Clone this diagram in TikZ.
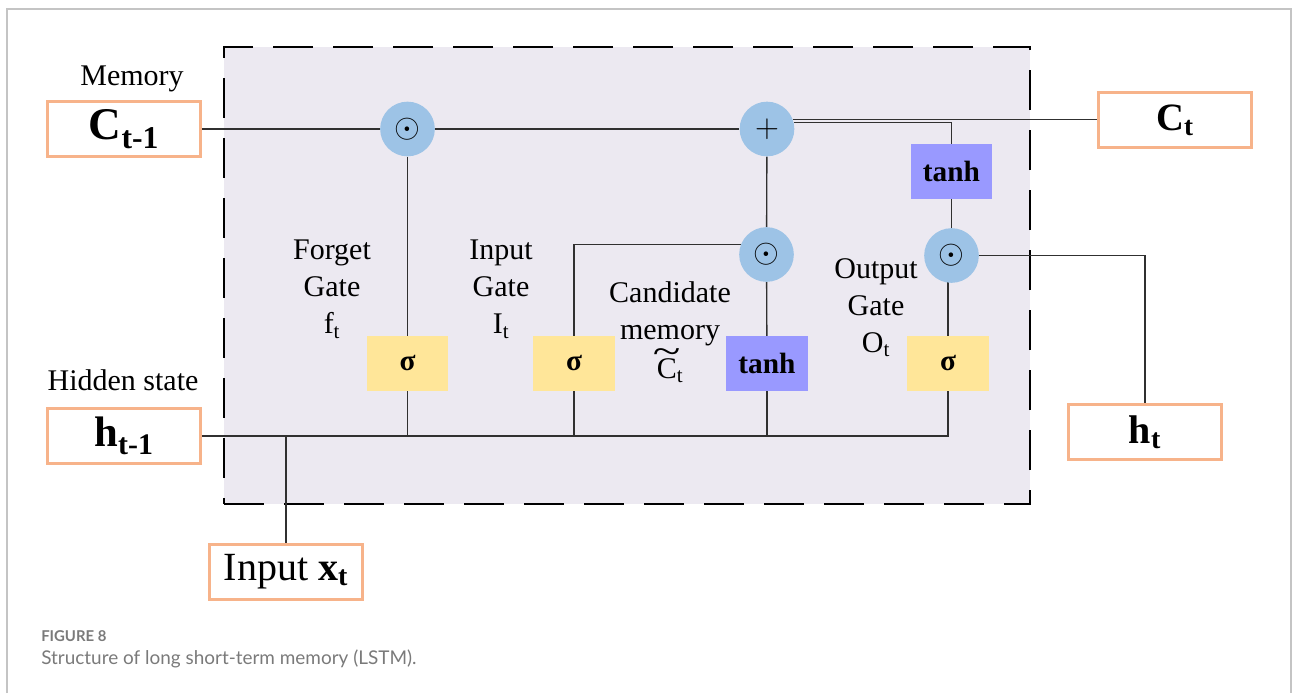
\documentclass[tikz,border=0pt]{standalone}
\usepackage{fontspec}
\usepackage{graphicx}
\setmainfont{Liberation Serif}
\newfontfamily\capfont{Lato}
\usetikzlibrary{backgrounds}
\definecolor{boxorange}{HTML}{F7B38A}
\definecolor{cellfill}{HTML}{ECE9F1}
\definecolor{opblue}{HTML}{9DC3E6}
\definecolor{sigyellow}{HTML}{FFE699}
\definecolor{tanhpurple}{HTML}{9999FF}
\definecolor{framegray}{HTML}{C4C4C4}
\definecolor{capgray}{HTML}{7A7A7A}
\definecolor{wire}{HTML}{303030}
\newcommand\tildeC{\ooalign{C\cr\hidewidth\raisebox{0.5em}{\scalebox{1.7}[1.2]{\~{}}}\hidewidth\cr}}
\begin{document}
\begin{tikzpicture}[x=0.75pt,y=-0.75pt,
  iobox/.style={draw=boxorange, line width=1.8pt, fill=white, inner sep=0pt,
    minimum width=115pt, minimum height=41.5pt},
  gatebox/.style={inner sep=0pt, minimum width=61pt, minimum height=41pt,
    font=\fontsize{22}{22}\selectfont\bfseries},
  sigbox/.style={gatebox, fill=sigyellow},
  tanhbox/.style={gatebox, fill=tanhpurple},
  op/.style={circle, fill=opblue, inner sep=0pt, minimum size=41pt},
  wire/.style={draw=wire, line width=1pt},
  lbl/.style={align=center, inner sep=0pt, font=\fontsize{22.5}{27.75}\selectfont},
  cell/.style={draw=black, fill=cellfill, line width=2.2pt, dash pattern=on 30pt off 15pt,
    minimum width=604.5pt, minimum height=342.75pt, inner sep=0pt},
  captxt/.style={inner sep=0pt, text=capgray, anchor=base west}
]
\useasboundingbox (0,0) rectangle (1292,693);
\draw[framegray, line width=1.1pt] (7,693) -- (7,9) -- (1291,9) -- (1291,693);

% input / output boxes
\node[iobox] (cprev) at (124,129) {\fontsize{34}{34}\selectfont\textbf{C\textsubscript{t-1}}};
\node[iobox] (hprev) at (124,436) {\fontsize{32}{32}\selectfont\textbf{h\textsubscript{t-1}}};
\node[iobox] (xin) at (286,572) {\fontsize{30}{30}\selectfont Input \textbf{x\textsubscript{t}}};
\node[iobox] (ct) at (1175,120) {\fontsize{29}{29}\selectfont\textbf{C\textsubscript{t}}};
\node[iobox] (ht) at (1145,432) {\fontsize{30}{30}\selectfont\textbf{h\textsubscript{t}}};

% gates
\node[sigbox] (sig1) at (407.5,363.5) {σ};
\node[sigbox] (sig2) at (574,363.5) {σ};
\node[sigbox] (sig3) at (948,363.5) {σ};
\node[tanhbox] (tanh1) at (767,363.5) {tanh};
\node[tanhbox] (tanh2) at (951.5,171.5) {tanh};

% pointwise operations
\node[op] (m1) at (407.5,129) {\fontsize{27}{27}\selectfont$\odot$};
\node[op] (plus) at (767,129) {\fontsize{25}{25}\selectfont$+$};
\node[op] (m2) at (766.5,254.5) {\fontsize{27}{27}\selectfont$\odot$};
\node[op] (m3) at (951.5,255.5) {\fontsize{27}{27}\selectfont$\odot$};

% labels
\node[lbl, anchor=north] (mem) at (132,66) {Memory};
\node[lbl, anchor=north] (hid) at (123,369) {Hidden state};
\node[lbl, anchor=north] (forget) at (332,240) {Forget\\Gate\\f\textsubscript{t}};
\node[lbl, anchor=north] (inputg) at (501,240) {Input\\Gate\\I\textsubscript{t}};
\node[lbl, anchor=north] (cand) at (670,281) {Candidate\\memory\\[2pt]\tildeC\textsubscript{t}};
\node[lbl, anchor=north] (outg) at (876,258) {Output\\Gate\\O\textsubscript{t}};

% caption
\node[captxt, font=\capfont\bfseries\fontsize{11.2}{11.2}\selectfont] (fig) at (41,641) {FIGURE 8};
\node[captxt, font=\capfont\fontsize{14.2}{14.2}\selectfont] (capt) at (41,664) {Structure of long short-term memory (LSTM).};

\begin{scope}[on background layer]
  \node[cell] (cellbox) at (627,275.5) {};
  \draw[wire] (cprev.east) -- (m1) -- (plus);
  \draw[wire] (plus.20) -- (plus.20 -| ct.west);
  \draw[wire] (plus.13) -| (tanh2.north);
  \draw[wire] (plus) -- (m2);
  \draw[wire] (m2.158) -| (sig2);
  \draw[wire] (m2) -- (tanh1);
  \draw[wire] (m1) -- (sig1);
  \draw[wire] (hprev.east) -| (sig3);
  \draw[wire] (sig1) -- (sig1 |- hprev.east);
  \draw[wire] (sig2) -- (sig2 |- hprev.east);
  \draw[wire] (tanh1) -- (tanh1 |- hprev.east);
  \draw[wire] (xin.north) -- (xin.north |- hprev.east);
  \draw[wire] (sig3) -- (sig3 |- m3);
  \draw[wire] (tanh2) -- (m3);
  \draw[wire] (m3) -| (ht.north);
\end{scope}
\end{tikzpicture}
\end{document}
